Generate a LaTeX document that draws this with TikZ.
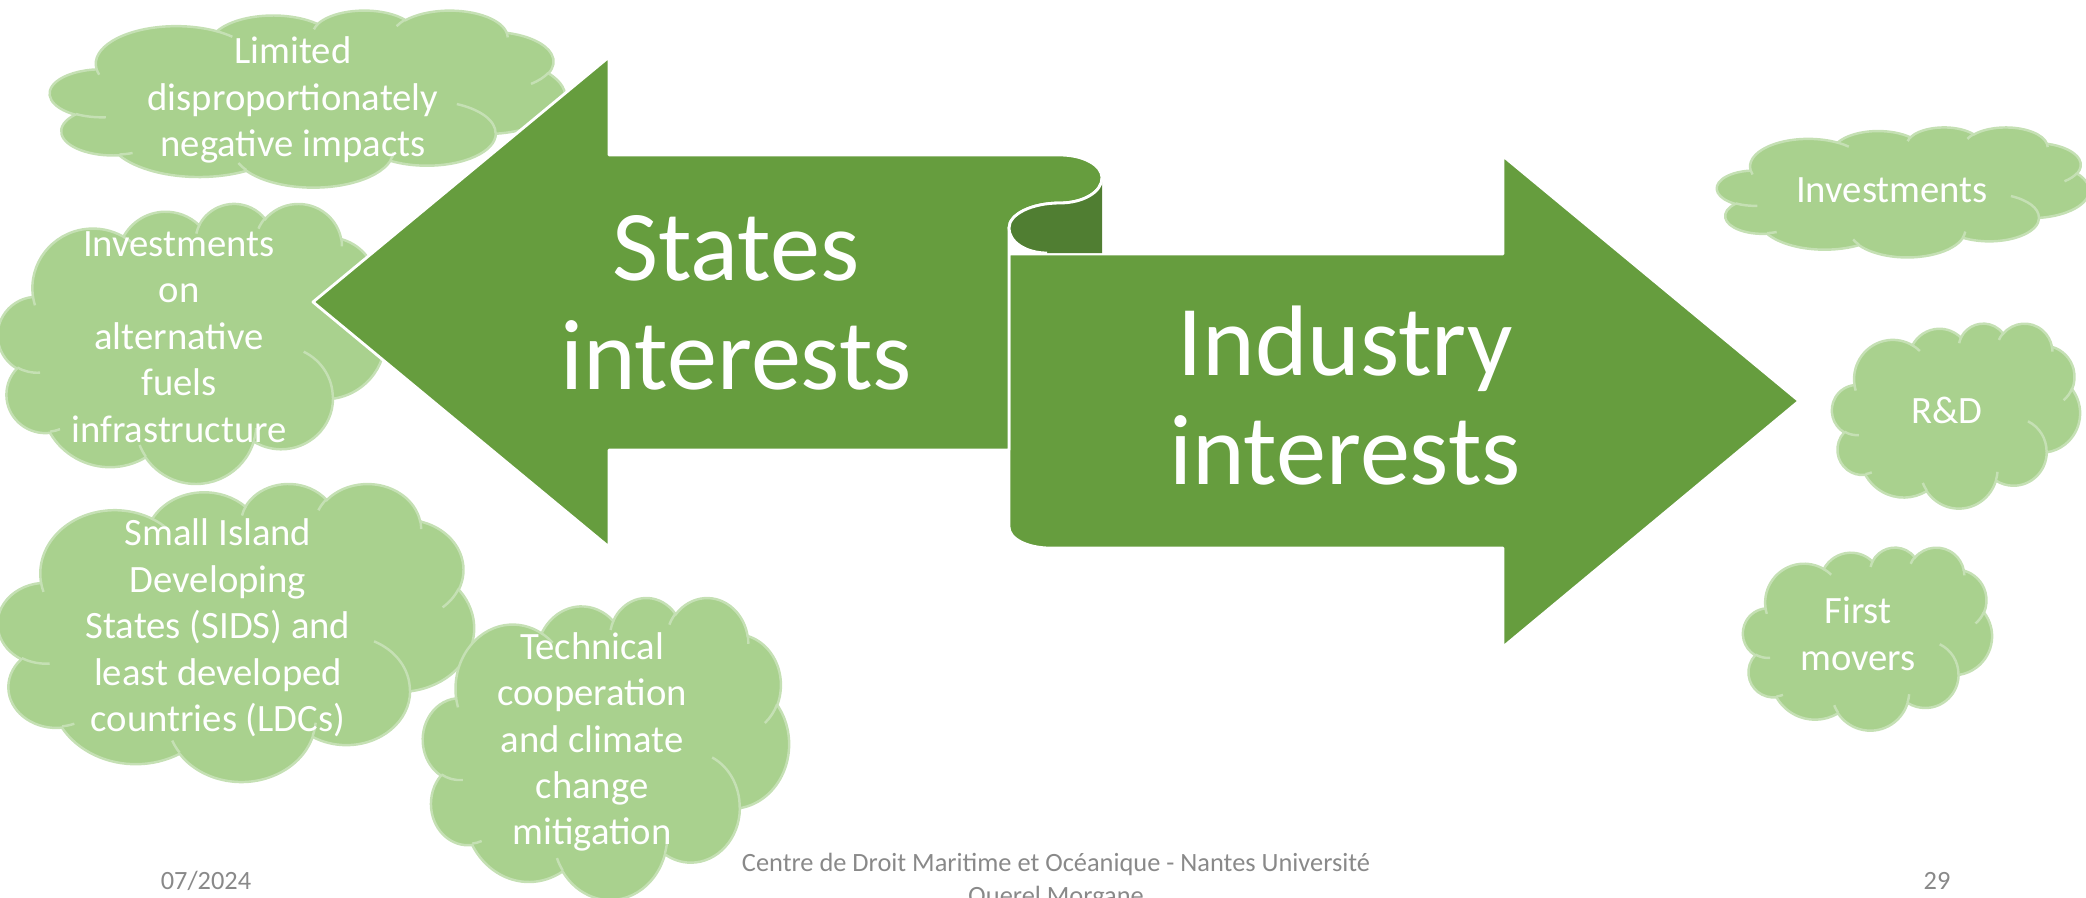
\documentclass[tikz,border=0pt]{standalone}
\usepackage{fontspec}
\setmainfont{Carlito}
\definecolor{arrowgreen}{RGB}{102,157,62}
\definecolor{curldark}{RGB}{80,126,50}
\definecolor{cloudfill}{RGB}{169,209,142}
\definecolor{cloudline}{RGB}{197,224,180}
\definecolor{footgray}{RGB}{137,137,137}
% one puff of the cloud outline: x radius, y radius, start and sweep angle
\newcommand{\cloudarc}[4]{%
  \pgfextra{%
    \pgfmathparse{atan2(#1*sin(#3),#2*cos(#3))}\xdef\arcfrom{\pgfmathresult}%
    \pgfmathparse{atan2(#1*sin(#3+#4),#2*cos(#3+#4))}\xdef\arcto{\pgfmathresult}%
    \pgfmathparse{mod(\arcto-\arcfrom+720,360)}\xdef\arcsweep{\pgfmathresult}%
  }
  arc[x radius=#1, y radius=#2, start angle=\arcfrom, delta angle=\arcsweep]}
% cloud in a box: left, top, width, height
\newcommand{\pptcloud}[4]{%
  \begin{scope}[shift={(#1,#2)}, xscale=#3/4320, yscale=#4/4320]
    \filldraw[cloudbody] (390,1437)
      \cloudarc{675.3}{919}{-190.4875}{123.7805}
      \cloudarc{533.3}{726.7}{-144.1024}{89.9452}
      \cloudarc{436.5}{594.5}{-145.8079}{99.723}
      \cloudarc{485.7}{659.5}{-130.9861}{117.2417}
      \cloudarc{533.3}{727.3}{-78.7089}{109.0269}
      \cloudarc{677.5}{922}{-46.2673}{130.269}
      \cloudarc{578.5}{786.7}{0.625}{114.0333}
      \cloudarc{675.2}{921.5}{22.4516}{115.1726}
      \cloudarc{772}{1054.3}{66.2426}{75.711}
      \cloudarc{436}{591.8}{-274.9421}{146.7356}
      \cloudarc{434.5}{594.5}{-246.8285}{152.5189} -- cycle;
    \draw[cloudvein]
      (469.3,2617.7) \cloudarc{434.5}{594.5}{86.742}{26.4295}
      (692.8,3489.9) \cloudarc{436}{591.8}{73.6105}{11.4475}
      (1647.8,3909) \cloudarc{675.2}{921.5}{137.6242}{14.0811}
      (2882.7,3475.1) \cloudarc{675.2}{921.5}{6.4533}{15.9984}
      (3412.9,2295.4) \cloudarc{578.5}{786.7}{-70.2924}{70.9174}
      (4179.8,1535.4) \cloudarc{533.3}{727.3}{30.318}{27.7515}
      (3832.4,542.6) \cloudarc{485.7}{659.5}{-13.7443}{14.8589}
      (2907.8,395.2) \cloudarc{485.7}{659.5}{-149.1815}{18.1954}
      (2214.1,472) \cloudarc{436.5}{594.5}{-163.4943}{17.6864}
      (1400,519.2) \cloudarc{675.3}{919}{-66.707}{12.3194}
      (412.7,1578.9) \cloudarc{675.3}{919}{157.6544}{11.8582};
  \end{scope}}
\begin{document}
\begin{tikzpicture}[x=0.01cm, y=-0.01cm,
    cloudbody/.style={fill=cloudfill, draw=cloudline, line width=0.7pt},
    cloudvein/.style={draw=cloudline, line width=0.7pt},
    cloudtext/.style={text=white, align=center, font=\fontsize{11}{13.2}\selectfont},
    bigtext/.style={text=white, align=center, font=\fontsize{28.5}{31}\selectfont},
    arrowbody/.style={fill=arrowgreen, draw=white, line width=0.8pt, line join=round},
    foot/.style={text=footgray, font=\fontsize{7.5}{9.2}\selectfont}]
  \useasboundingbox (0,0) rectangle (2086,897);

  % clouds, states side
  \pptcloud{50}{10}{515}{177}
  \pptcloud{-2}{203}{387}{280}
  \pptcloud{-2}{483}{476}{298}
  \pptcloud{423}{597}{366}{302}
  % clouds, industry side
  \pptcloud{1717}{127}{372}{130}
  \pptcloud{1832}{323}{248}{185}
  \pptcloud{1743}{547}{249}{183}

  % industry arrow
  \draw[arrowbody] (1009,254) -- (1503,254) -- (1503,156) -- (1799,401)
    -- (1503,647) -- (1503,548) -- (1050,548)
    .. controls (1028,548) and (1009,539) .. (1009,527) -- cycle;
  % states arrow with the curl
  \draw[arrowbody] (313,302) -- (609,57) -- (609,155) -- (1060,155)
    .. controls (1083,155) and (1102,165) .. (1102,178)
    .. controls (1102,192) and (1083,203) .. (1060,203)
    .. controls (1032,203) and (1009,214) .. (1009,228)
    -- (1009,450) -- (609,450) -- (609,547) -- cycle;
  \fill[curldark] (1009,228) .. controls (1009,242) and (1026,253) .. (1047,253)
    -- (1102,253) -- (1102,178)
    .. controls (1102,192) and (1083,203) .. (1060,203)
    .. controls (1032,203) and (1009,214) .. (1009,228) -- cycle;
  \draw[white, line width=0.8pt] (1102,178)
    .. controls (1102,192) and (1083,203) .. (1060,203)
    .. controls (1032,203) and (1009,214) .. (1009,228)
    .. controls (1009,242) and (1026,253) .. (1047,253);

  \node[bigtext] (states) at (736,303) {States\\interests};
  \node[bigtext] (industry) at (1345,396) {Industry\\interests};

  \node[cloudtext] (limitedtext) at (293,100) {Limited\\disproportionately\\negative impacts};
  \node[cloudtext] (fuelstext) at (179,337) {Investments\\on\\alternative\\fuels\\infrastructure};
  \node[cloudtext] (sidstext) at (218,628) {Small Island\\Developing\\States (SIDS) and\\least developed\\countries (LDCs)};
  \node[cloudtext] (technicaltext) at (592,742) {Technical\\cooperation\\and climate\\change\\mitigation};
  \node[cloudtext] (investtext) at (1892,190) {Investments};
  \node[cloudtext] (rdtext) at (1947,410) {R\&D};
  \node[cloudtext] (moverstext) at (1858,634) {First\\movers};

  % footer
  \node[foot, anchor=base] (date) at (206,889) {07/2024};
  \node[foot, anchor=base, align=center] (centre) at (1056,904)
    {Centre de Droit Maritime et Océanique - Nantes Université\\Querel Morgane};
  \node[foot, anchor=base] (page) at (1937,889) {29};
\end{tikzpicture}
\end{document}
